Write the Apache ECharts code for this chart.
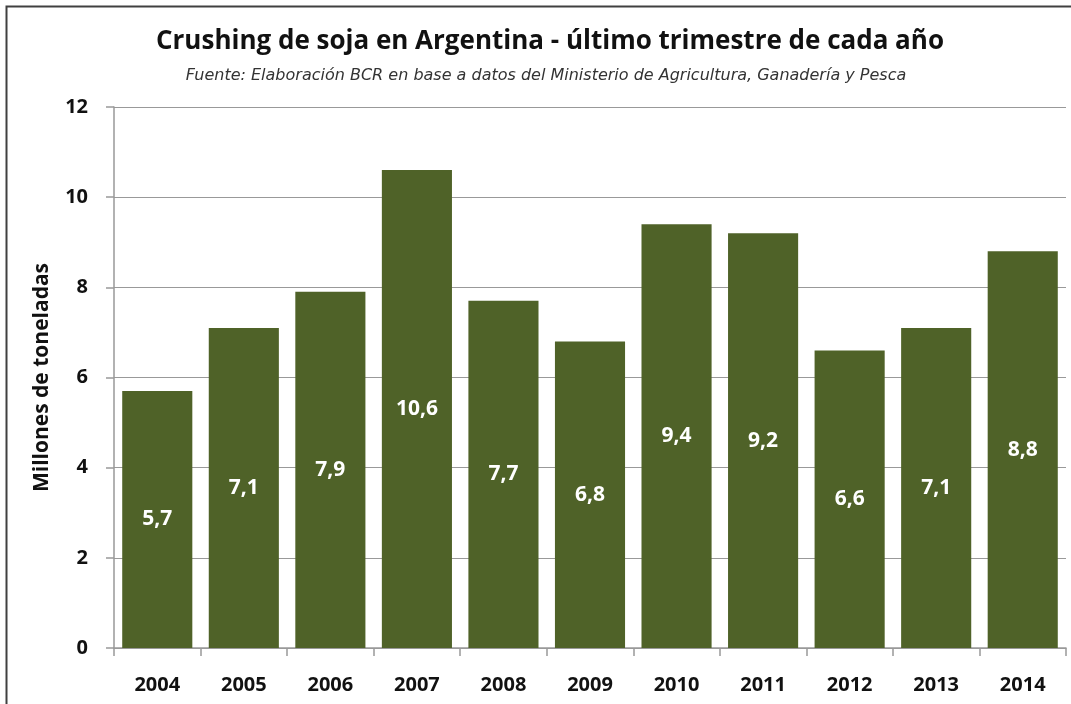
<!DOCTYPE html>
<html><head><meta charset="utf-8">
<script src="https://cdn.jsdelivr.net/npm/echarts@6/dist/echarts.min.js"></script>
<style>html,body{margin:0;padding:0;background:#fff}#c{width:1071px;height:704px}</style>
</head><body><div id="c"></div>
<script>
const categories = ['2004','2005','2006','2007','2008','2009','2010','2011','2012','2013','2014'];
const values = [5.7, 7.1, 7.9, 10.6, 7.7, 6.8, 9.4, 9.2, 6.6, 7.1, 8.8];
const yTicks = [0, 2, 4, 6, 8, 10, 12];
const titleText = 'Crushing de soja en Argentina - último trimestre de cada año';
const subtitleText = 'Fuente: Elaboración BCR en base a datos del Ministerio de Agricultura, Ganadería y Pesca';
const yName = 'Millones de toneladas';

const chart = echarts.init(document.getElementById('c'), null, {renderer: 'canvas'});
const font = '"Open Sans", "Noto Sans", sans-serif';
chart.setOption({
  animation: false,
  graphic: [{
    type: 'rect', shape: {x: 6.5, y: 6.5, width: 1100, height: 750},
    style: {fill: 'none', stroke: '#404040', lineWidth: 2}, silent: true
  }],
  title: [{
    text: titleText, left: 545, textAlign: 'center', top: 24,
    textStyle: {fontFamily: font, fontSize: 26, fontWeight: 'bold', color: '#111'}
  }, {
    text: subtitleText, left: 541, textAlign: 'center', top: 63,
    textStyle: {fontFamily: '"DejaVu Sans", sans-serif', fontSize: 16, fontStyle: 'italic', fontWeight: 'normal', color: '#333'}
  }],
  grid: {left: 114, right: 5, top: 107, bottom: 56, containLabel: false},
  xAxis: {
    type: 'category', data: categories,
    axisLine: {lineStyle: {color: '#999', width: 1.5}},
    axisTick: {show: true, length: 8, lineStyle: {color: '#999', width: 1.5}},
    axisLabel: {margin: 27, fontFamily: font, fontSize: 20, fontWeight: 'bold', color: '#111'}
  },
  yAxis: {
    type: 'value', min: yTicks[0], max: yTicks[yTicks.length-1], interval: 2,
    name: yName, nameLocation: 'middle', nameGap: 61, nameRotate: 90,
    nameTextStyle: {fontFamily: font, fontSize: 21, fontWeight: 'bold', color: '#111'},
    axisLine: {show: true, lineStyle: {color: '#999', width: 1.5}},
    axisTick: {show: true, length: 8, lineStyle: {color: '#999', width: 1.5}},
    splitLine: {lineStyle: {color: '#999', width: 1}},
    axisLabel: {margin: 26, fontFamily: font, fontSize: 20, fontWeight: 'bold', color: '#111'}
  },
  series: [{
    type: 'bar', data: values, barCategoryGap: '19%',
    itemStyle: {color: '#4f6228'},
    label: {
      show: true, position: 'inside', color: '#fff',
      fontFamily: font, fontSize: 21, fontWeight: 'bold',
      formatter: p => String(p.value).replace('.', ',')
    }
  }]
});
</script></body></html>
